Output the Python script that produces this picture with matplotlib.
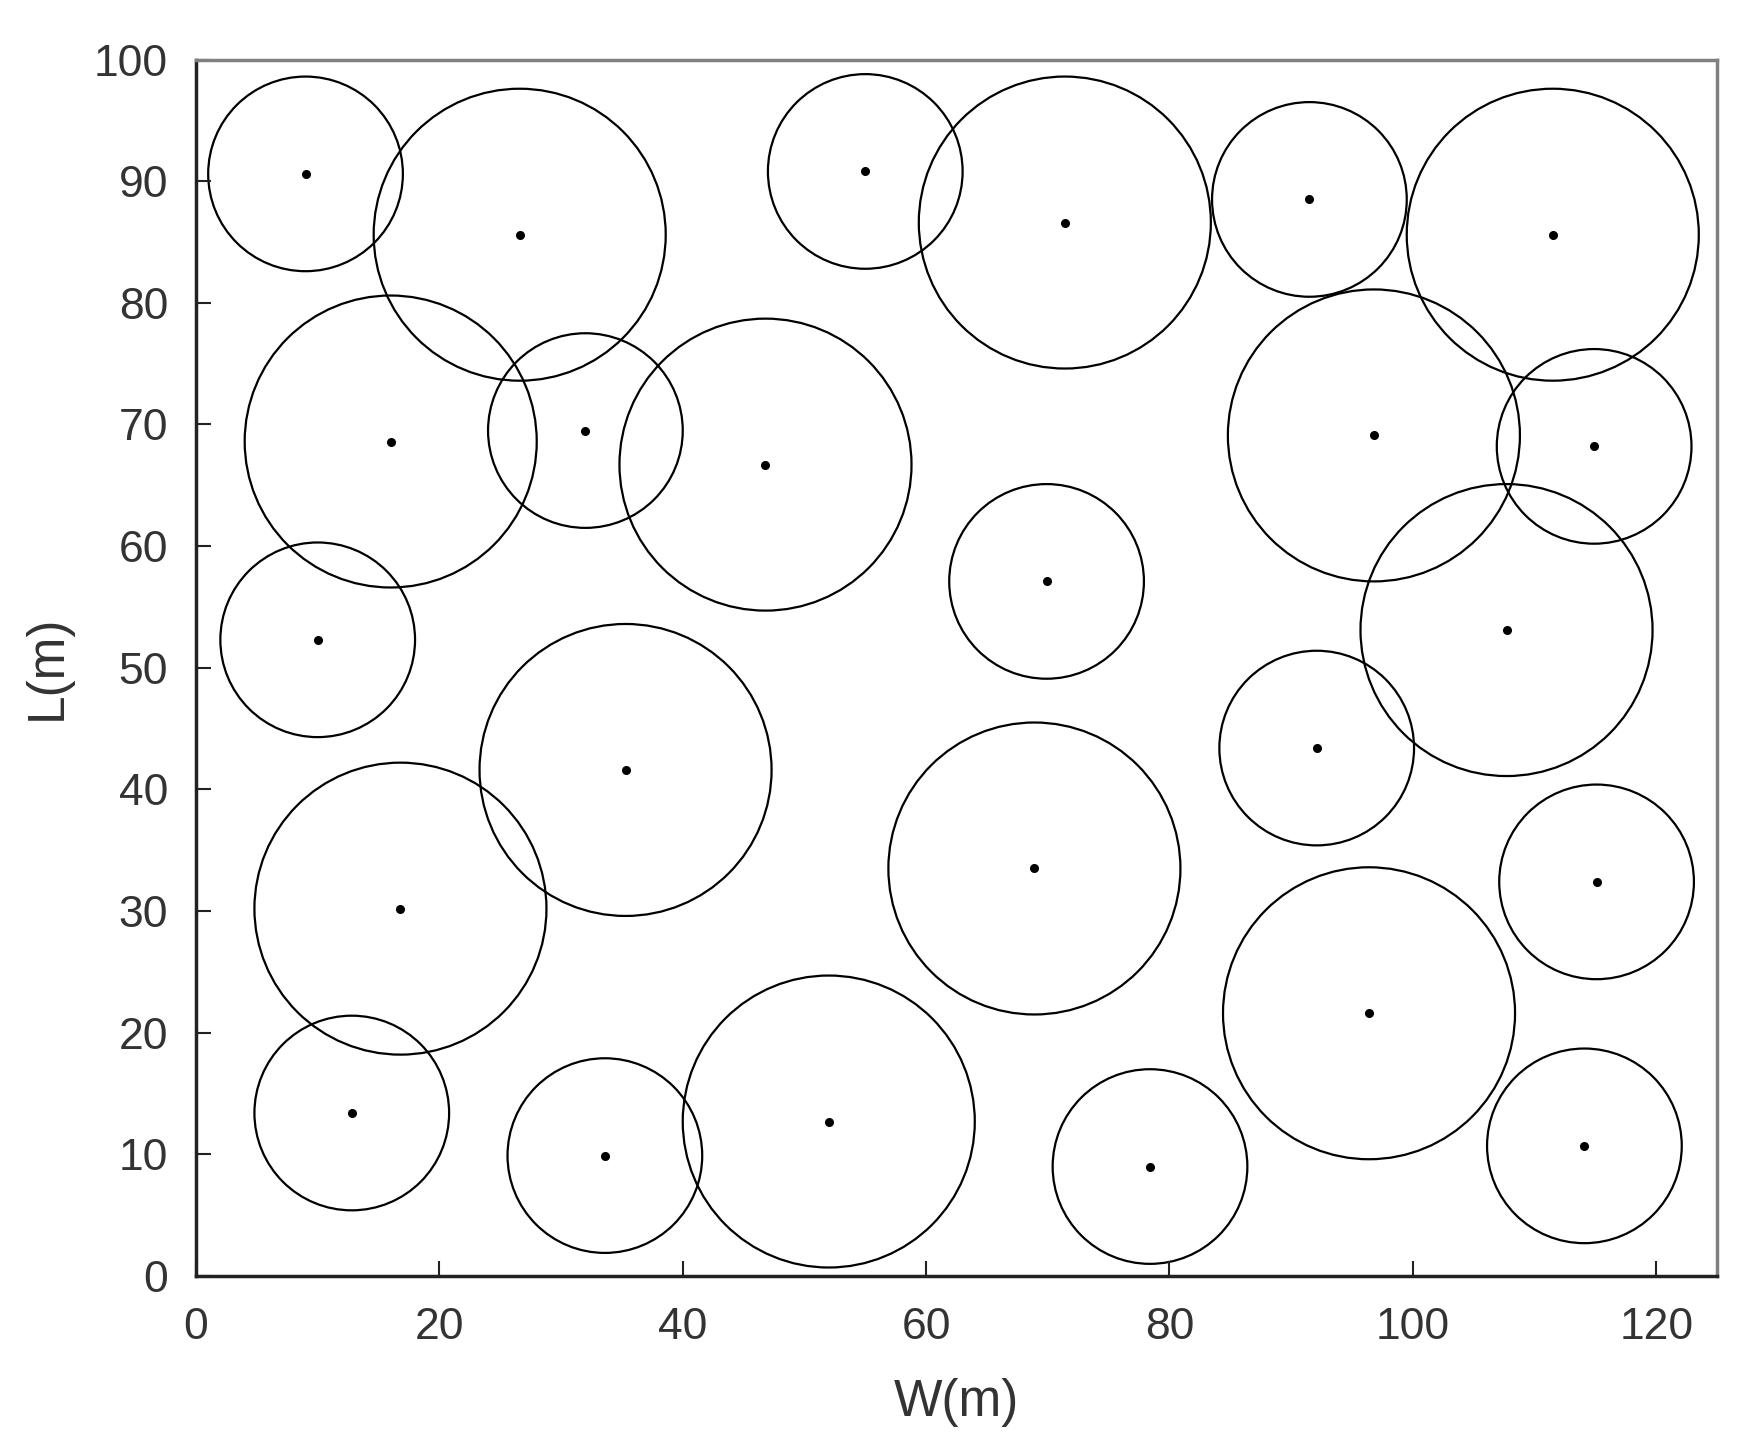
import matplotlib
matplotlib.use("Agg")
import matplotlib.pyplot as plt
from matplotlib.patches import Circle

# Node centres (m) and coverage radii (m)
x_small = [9.0, 32.0, 10.0, 55.0, 69.9, 91.5, 114.9, 92.1, 115.1, 114.1, 12.8, 33.6, 78.4]
y_small = [90.6, 69.5, 52.3, 90.8, 57.1, 88.5, 68.2, 43.4, 32.4, 10.7, 13.4, 9.9, 9.0]
r_small = 8

x_big = [26.6, 16.0, 71.4, 46.8, 111.5, 96.8, 107.7, 35.3, 16.8, 68.9, 52.0, 96.4]
y_big = [85.6, 68.6, 86.6, 66.7, 85.6, 69.1, 53.1, 41.6, 30.2, 33.5, 12.7, 21.6]
r_big = 12

xticks = [0, 20, 40, 60, 80, 100, 120]
yticks = [0, 10, 20, 30, 40, 50, 60, 70, 80, 90, 100]

plt.rcParams['font.family'] = ['Liberation Sans', 'DejaVu Sans']

fig = plt.figure(figsize=(17.58, 14.52), dpi=100)
ax = fig.add_axes([0.1115, 0.1212, 0.8652, 0.8378])

for xs, ys, r in [(x_small, y_small, r_small), (x_big, y_big, r_big)]:
    for cx, cy in zip(xs, ys):
        ax.add_patch(Circle((cx, cy), r, fill=False, edgecolor='black', linewidth=1.6))
    ax.plot(xs, ys, 'o', color='black', markersize=5.5)

ax.set_xlim(0, 125)
ax.set_ylim(0, 100)
ax.set_xticks(xticks)
ax.set_yticks(yticks)
ax.tick_params(direction='in', length=11, width=1.5, labelsize=32,
               labelcolor='#333333', color='#222222', top=False, right=False)
ax.tick_params(axis='x', pad=22)
ax.tick_params(axis='y', pad=20)

for s in ['left', 'bottom']:
    ax.spines[s].set_linewidth(2.5)
    ax.spines[s].set_color('#222222')
for s in ['top', 'right']:
    ax.spines[s].set_linewidth(2.5)
    ax.spines[s].set_color('#808080')

ax.set_xlabel('W(m)', fontsize=37, color='#333333', labelpad=22)
ax.set_ylabel('L(m)', fontsize=37, color='#333333', labelpad=16)

fig.savefig('out.png', dpi=100, facecolor='white')
